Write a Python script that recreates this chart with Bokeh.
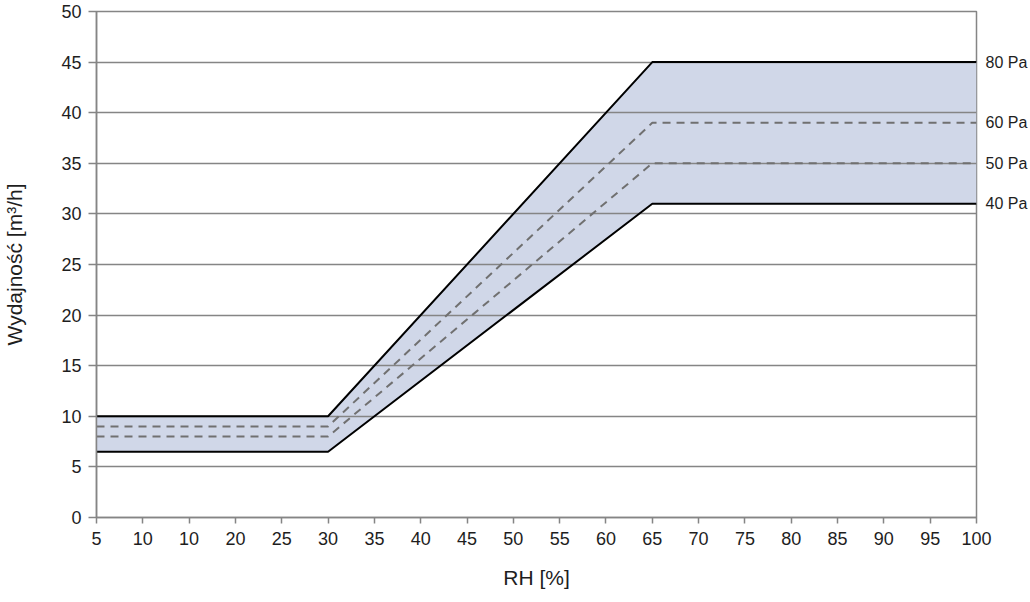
from bokeh.plotting import figure
from bokeh.models import FixedTicker, Range1d, LinearAxis
from bokeh.embed import file_html
from bokeh.resources import INLINE

rh = [5, 30, 65, 100]
q_80pa = [10, 10, 45, 45]
q_60pa = [9, 9, 39, 39]
q_50pa = [8, 8, 35, 35]
q_40pa = [6.5, 6.5, 31, 31]

x_ticks = [5, 10, 15, 20, 25, 30, 35, 40, 45, 50, 55, 60, 65, 70, 75, 80, 85, 90, 95, 100]
x_tick_labels = ["5", "10", "10", "20", "25", "30", "35", "40", "45", "50", "55", "60",
                 "65", "70", "75", "80", "85", "90", "95", "100"]
y_ticks = [0, 5, 10, 15, 20, 25, 30, 35, 40, 45, 50]
series_labels = ["80 Pa", "60 Pa", "50 Pa", "40 Pa"]
series_end = [q_80pa[-1], q_60pa[-1], q_50pa[-1], q_40pa[-1]]

FONT = "Liberation Sans"
GRAY = "#858585"
TXT = "#1e1e1e"

p = figure(width=1030, height=600, output_backend="svg", toolbar_location=None,
           x_range=Range1d(5, 100), y_range=Range1d(0, 50),
           min_border_left=95, min_border_right=52, min_border_top=11, min_border_bottom=83)

p.varea(x=rh, y1=q_40pa, y2=q_80pa, fill_color="#D0D7E8", level="image")
p.line(rh, q_80pa, line_color="black", line_width=2)
p.line(rh, q_40pa, line_color="black", line_width=2)
p.line(rh, q_60pa, line_color="#707070", line_width=2, line_dash="8 6")
p.line(rh, q_50pa, line_color="#707070", line_width=2, line_dash="8 6")

p.outline_line_color = GRAY
p.outline_line_width = 1.5
p.xgrid.visible = False
p.ygrid.ticker = FixedTicker(ticks=y_ticks)
p.ygrid.grid_line_color = GRAY
p.ygrid.grid_line_width = 1.5

p.xaxis.ticker = FixedTicker(ticks=x_ticks)
p.xaxis.major_label_overrides = {t: l for t, l in zip(x_ticks, x_tick_labels)}
p.yaxis.ticker = FixedTicker(ticks=y_ticks)

for ax in (p.xaxis[0], p.yaxis[0]):
    ax.axis_line_color = GRAY
    ax.axis_line_width = 1.5
    ax.major_tick_line_color = GRAY
    ax.major_tick_line_width = 1.5
    ax.major_tick_in = 0
    ax.minor_tick_line_color = None
    ax.major_label_text_font = FONT
    ax.major_label_text_font_size = "18px"
    ax.major_label_text_color = TXT
    ax.axis_label_text_font = FONT
    ax.axis_label_text_font_size = "21px"
    ax.axis_label_text_font_style = "normal"
    ax.axis_label_text_color = TXT

p.xaxis.major_tick_out = 6
p.yaxis.major_tick_out = 8
p.xaxis.major_label_standoff = 8
p.yaxis.major_label_standoff = 7
p.xaxis.axis_label = "RH [%]"
p.yaxis.axis_label = "Wydajność [m³/h]"
p.xaxis.axis_label_standoff = 18
p.yaxis.axis_label_standoff = 32

right = LinearAxis(ticker=FixedTicker(ticks=series_end),
                   major_label_overrides={v: l for v, l in zip(series_end, series_labels)})
right.axis_line_color = None
right.major_tick_line_color = None
right.minor_tick_line_color = None
right.major_tick_out = 0
right.major_tick_in = 0
right.major_label_standoff = 9
right.major_label_text_font = FONT
right.major_label_text_font_size = "16px"
right.major_label_text_color = TXT
p.add_layout(right, "right")

open("out.html", "w").write(file_html(p, INLINE))
